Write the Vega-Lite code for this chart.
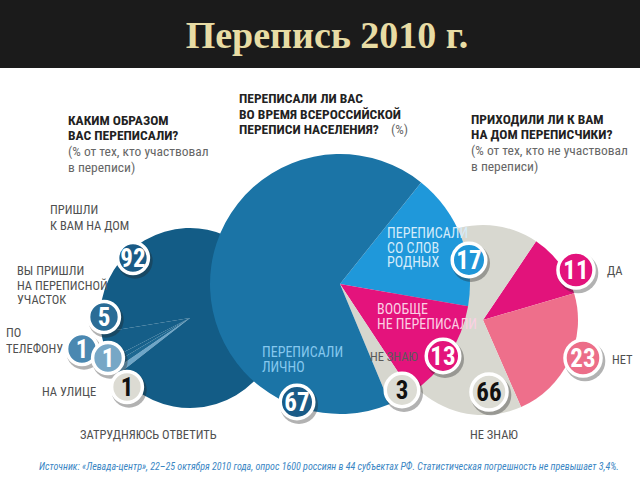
{
  "$schema": "https://vega.github.io/schema/vega-lite/v6.json",
  "width": 640,
  "height": 480,
  "autosize": {"type": "none"},
  "padding": 0,
  "background": "white",
  "config": {"view": {"stroke": null}},
  "datasets": {
    "slices": [
      {"pie": "left", "key": "hardL", "value": 1, "ord": 1},
      {"pie": "left", "key": "street", "value": 1, "ord": 2},
      {"pie": "left", "key": "phone", "value": 1, "ord": 3},
      {"pie": "left", "key": "station", "value": 5, "ord": 4},
      {"pie": "left", "key": "home", "value": 92, "ord": 5},
      {"pie": "center", "key": "relatives", "value": 17, "ord": 1},
      {"pie": "center", "key": "none", "value": 13, "ord": 2},
      {"pie": "center", "key": "dk", "value": 3, "ord": 3},
      {"pie": "center", "key": "self", "value": 67, "ord": 4},
      {"pie": "right", "key": "yes", "value": 11, "ord": 1},
      {"pie": "right", "key": "no", "value": 23, "ord": 2},
      {"pie": "right", "key": "dk2", "value": 66, "ord": 3}
    ],
    "bubbles": [
      {"key": "home", "pie": "left", "value": 92, "x": 133, "y": 258},
      {"key": "station", "pie": "left", "value": 5, "x": 104, "y": 317},
      {"key": "phone", "pie": "left", "value": 1, "x": 82, "y": 349},
      {"key": "street", "pie": "left", "value": 1, "x": 108, "y": 358},
      {"key": "hardL", "pie": "left", "value": 1, "x": 127, "y": 387},
      {"key": "self", "pie": "center", "value": 67, "x": 297, "y": 402},
      {"key": "relatives", "pie": "center", "value": 17, "x": 469, "y": 260},
      {"key": "none", "pie": "center", "value": 13, "x": 443, "y": 356},
      {"key": "dk", "pie": "center", "value": 3, "x": 402, "y": 390},
      {"key": "yes", "pie": "right", "value": 11, "x": 576, "y": 270},
      {"key": "no", "pie": "right", "value": 23, "x": 583, "y": 358},
      {"key": "dk2", "pie": "right", "value": 66, "x": 489, "y": 392}
    ],
    "labels": [
      {"text": "ПРИШЛИ", "x": 50, "y": 210, "key": "home"},
      {"text": "К ВАМ НА ДОМ", "x": 50, "y": 226, "key": "home"},
      {"text": "ВЫ ПРИШЛИ", "x": 17, "y": 271, "key": "station"},
      {"text": "НА ПЕРЕПИСНОЙ", "x": 17, "y": 285.5, "key": "station"},
      {"text": "УЧАСТОК", "x": 17, "y": 300, "key": "station"},
      {"text": "ПО", "x": 6, "y": 333, "key": "phone"},
      {"text": "ТЕЛЕФОНУ", "x": 6, "y": 349, "key": "phone"},
      {"text": "НА УЛИЦЕ", "x": 42, "y": 392, "key": "street"},
      {"text": "ЗАТРУДНЯЮСЬ ОТВЕТИТЬ", "x": 80, "y": 435, "key": "hardL"},
      {"text": "ПЕРЕПИСАЛИ", "x": 387, "y": 234, "key": "relatives"},
      {"text": "СО СЛОВ", "x": 387, "y": 248.5, "key": "relatives"},
      {"text": "РОДНЫХ", "x": 387, "y": 263, "key": "relatives"},
      {"text": "ВООБЩЕ", "x": 377, "y": 310, "key": "none"},
      {"text": "НЕ ПЕРЕПИСАЛИ", "x": 377, "y": 325, "key": "none"},
      {"text": "ПЕРЕПИСАЛИ", "x": 262, "y": 353, "key": "self"},
      {"text": "ЛИЧНО", "x": 262, "y": 367.5, "key": "self"},
      {"text": "НЕ ЗНАЮ", "x": 370, "y": 357, "key": "dk"},
      {"text": "ДА", "x": 607, "y": 271, "key": "yes"},
      {"text": "НЕТ", "x": 612, "y": 360, "key": "no"},
      {"text": "НЕ ЗНАЮ", "x": 470, "y": 435, "key": "dk2"}
    ],
    "titles": [
      {"text": "КАКИМ ОБРАЗОМ", "x": 68, "y": 121, "kind": "bold"},
      {"text": "ВАС ПЕРЕПИСАЛИ?", "x": 68, "y": 136, "kind": "bold"},
      {"text": "ПЕРЕПИСАЛИ ЛИ ВАС", "x": 239, "y": 99, "kind": "bold"},
      {"text": "ВО ВРЕМЯ ВСЕРОССИЙСКОЙ", "x": 239, "y": 114.5, "kind": "bold"},
      {"text": "ПЕРЕПИСИ НАСЕЛЕНИЯ?", "x": 239, "y": 130, "kind": "bold"},
      {"text": "ПРИХОДИЛИ ЛИ К ВАМ", "x": 471, "y": 120, "kind": "bold"},
      {"text": "НА ДОМ ПЕРЕПИСЧИКИ?", "x": 471, "y": 134.5, "kind": "bold"},
      {"text": "(% от тех, кто участвовал", "x": 68, "y": 152, "kind": "sub"},
      {"text": "в переписи)", "x": 68, "y": 168, "kind": "sub"},
      {"text": "(%)", "x": 391, "y": 130, "kind": "sub"},
      {"text": "(% от тех, кто не участвовал", "x": 471, "y": 151, "kind": "sub"},
      {"text": "в переписи)", "x": 471, "y": 166.5, "kind": "sub"},
      {"text": "Источник: «Левада-центр», 22–25 октября 2010 года, опрос 1600 россиян в 44 субъектах РФ. Статистическая погрешность не превышает 3,4%.", "x": 39, "y": 467, "kind": "source"},
      {"text": "Перепись 2010 г.", "x": 327, "y": 37, "kind": "header"}
    ]
  },
  "layer": [
    {
      "data": {"values": [{"x0": 0, "x1": 640, "y0": 0, "y1": 68}]},
      "mark": {"type": "rect", "color": "#1b1b1b"},
      "encoding": {
        "x": {"field": "x0", "type": "quantitative", "scale": {"domain": [0, 640], "nice": false, "zero": false}, "axis": null},
        "x2": {"field": "x1"},
        "y": {"field": "y0", "type": "quantitative", "scale": {"domain": [0, 480], "nice": false, "zero": false, "reverse": true}, "axis": null},
        "y2": {"field": "y1"}
      }
    },
    {
      "data": {"name": "slices"},
      "transform": [{"filter": "datum.pie === 'right'"}],
      "mark": {"type": "arc", "outerRadius": 95},
      "encoding": {
        "x": {"datum": 483, "type": "quantitative", "scale": {"domain": [0, 640], "nice": false, "zero": false}, "axis": null},
        "y": {"datum": 320, "type": "quantitative", "scale": {"domain": [0, 480], "nice": false, "zero": false, "reverse": true}, "axis": null},
        "theta": {"field": "value", "type": "quantitative", "stack": true, "scale": {"domain": [0, 100], "range": [0.593, 6.876]}},
        "order": {"field": "ord", "type": "quantitative"},
        "color": {"field": "key", "type": "nominal", "legend": null, "scale": {"domain": ["yes", "no", "dk2"], "range": ["#e2137b", "#ee6f8b", "#d8d8d0"]}}
      }
    },
    {
      "data": {"name": "slices"},
      "transform": [{"filter": "datum.pie === 'left'"}],
      "mark": {"type": "arc", "outerRadius": 90},
      "encoding": {
        "x": {"datum": 190, "type": "quantitative", "scale": {"domain": [0, 640], "nice": false, "zero": false}, "axis": null},
        "y": {"datum": 318, "type": "quantitative", "scale": {"domain": [0, 480], "nice": false, "zero": false, "reverse": true}, "axis": null},
        "theta": {"field": "value", "type": "quantitative", "stack": true, "scale": {"domain": [0, 100], "range": [4.049, 10.332]}},
        "order": {"field": "ord", "type": "quantitative"},
        "color": {"field": "key", "type": "nominal", "legend": null, "scale": {"domain": ["hardL", "street", "phone", "station", "home"], "range": ["#6ea6c8", "#1d6892", "#17618b", "#155e88", "#135c86"]}}
      }
    },
    {
      "data": {"name": "slices"},
      "transform": [{"filter": "datum.pie === 'center'"}],
      "mark": {"type": "arc", "outerRadius": 130},
      "encoding": {
        "x": {"datum": 340, "type": "quantitative", "scale": {"domain": [0, 640], "nice": false, "zero": false}, "axis": null},
        "y": {"datum": 284, "type": "quantitative", "scale": {"domain": [0, 480], "nice": false, "zero": false, "reverse": true}, "axis": null},
        "theta": {"field": "value", "type": "quantitative", "stack": true, "scale": {"domain": [0, 100], "range": [0.674, 6.957]}},
        "order": {"field": "ord", "type": "quantitative"},
        "color": {"field": "key", "type": "nominal", "legend": null, "scale": {"domain": ["relatives", "none", "dk", "self"], "range": ["#1f98da", "#e4137c", "#d6d6ce", "#1b74a6"]}}
      }
    },
    {
      "data": {"name": "bubbles"},
      "mark": {"type": "circle", "color": "#222222", "opacity": 0.35, "xOffset": 2, "yOffset": 3},
      "encoding": {
        "x": {"field": "x", "type": "quantitative", "scale": {"domain": [0, 640], "nice": false, "zero": false}, "axis": null},
        "y": {"field": "y", "type": "quantitative", "scale": {"domain": [0, 480], "nice": false, "zero": false, "reverse": true}, "axis": null},
        "size": {"field": "pie", "type": "nominal", "legend": null, "scale": {"domain": ["left", "center", "right"], "range": [1250, 1650, 1650]}}
      }
    },
    {
      "data": {"name": "bubbles"},
      "mark": {"type": "circle", "opacity": 1, "stroke": "white", "strokeWidth": 3.5},
      "encoding": {
        "x": {"field": "x", "type": "quantitative", "scale": {"domain": [0, 640], "nice": false, "zero": false}, "axis": null},
        "y": {"field": "y", "type": "quantitative", "scale": {"domain": [0, 480], "nice": false, "zero": false, "reverse": true}, "axis": null},
        "size": {"field": "pie", "type": "nominal", "legend": null, "scale": {"domain": ["left", "center", "right"], "range": [950, 1300, 1300]}},
        "color": {"field": "key", "type": "nominal", "legend": null, "scale": {"domain": ["home", "station", "phone", "street", "hardL", "self", "relatives", "none", "dk", "yes", "no", "dk2"], "range": ["#1a5b86", "#2a6c96", "#4a88b1", "#77a7c6", "#dcdbd3", "#1a5b87", "#1f96d8", "#e3147c", "#dcdcd4", "#e3137c", "#ec6e89", "#dcdcd4"]}}
      }
    },
    {
      "data": {"name": "bubbles"},
      "mark": {"type": "text", "font": "Roboto Condensed, Liberation Sans Narrow, Roboto, sans-serif", "fontWeight": "bold", "fontSize": 25, "align": "center", "baseline": "middle", "dy": 1},
      "encoding": {
        "x": {"field": "x", "type": "quantitative", "scale": {"domain": [0, 640], "nice": false, "zero": false}, "axis": null},
        "y": {"field": "y", "type": "quantitative", "scale": {"domain": [0, 480], "nice": false, "zero": false, "reverse": true}, "axis": null},
        "text": {"field": "value", "type": "quantitative"},
        "color": {"field": "key", "type": "nominal", "legend": null, "scale": {"domain": ["home", "station", "phone", "street", "hardL", "self", "relatives", "none", "dk", "yes", "no", "dk2"], "range": ["#ffffff", "#ffffff", "#ffffff", "#ffffff", "#111111", "#ffffff", "#ffffff", "#ffffff", "#111111", "#ffffff", "#ffffff", "#111111"]}}
      }
    },
    {
      "data": {"name": "labels"},
      "transform": [{"filter": "datum.key !== 'relatives' && datum.key !== 'none' && datum.key !== 'self'"}],
      "mark": {"type": "text", "font": "Roboto Condensed, Liberation Sans Narrow, Roboto, sans-serif", "fontSize": 12.5, "align": "left", "baseline": "middle"},
      "encoding": {
        "x": {"field": "x", "type": "quantitative", "scale": {"domain": [0, 640], "nice": false, "zero": false}, "axis": null},
        "y": {"field": "y", "type": "quantitative", "scale": {"domain": [0, 480], "nice": false, "zero": false, "reverse": true}, "axis": null},
        "text": {"field": "text", "type": "nominal"},
        "color": {"field": "key", "type": "nominal", "legend": null, "scale": {"domain": ["home", "station", "phone", "street", "hardL", "dk", "yes", "no", "dk2"], "range": ["#505050", "#505050", "#505050", "#505050", "#505050", "#5a5a5a", "#505050", "#505050", "#505050"]}}
      }
    },
    {
      "data": {"name": "labels"},
      "transform": [{"filter": "datum.key === 'relatives' || datum.key === 'none' || datum.key === 'self'"}],
      "mark": {"type": "text", "font": "Roboto Condensed, Liberation Sans Narrow, Roboto, sans-serif", "fontSize": 14, "align": "left", "baseline": "middle"},
      "encoding": {
        "x": {"field": "x", "type": "quantitative", "scale": {"domain": [0, 640], "nice": false, "zero": false}, "axis": null},
        "y": {"field": "y", "type": "quantitative", "scale": {"domain": [0, 480], "nice": false, "zero": false, "reverse": true}, "axis": null},
        "text": {"field": "text", "type": "nominal"},
        "color": {"field": "key", "type": "nominal", "legend": null, "scale": {"domain": ["self", "relatives", "none"], "range": ["#86c8ee", "#d5ecfa", "#fbd0e4"]}}
      }
    },
    {
      "data": {"name": "titles"},
      "transform": [{"filter": "datum.kind === 'bold'"}],
      "mark": {"type": "text", "font": "Roboto Condensed, Liberation Sans Narrow, Roboto, sans-serif", "fontWeight": "bold", "fontSize": 13.5, "align": "left", "baseline": "middle", "color": "#222222"},
      "encoding": {
        "x": {"field": "x", "type": "quantitative", "scale": {"domain": [0, 640], "nice": false, "zero": false}, "axis": null},
        "y": {"field": "y", "type": "quantitative", "scale": {"domain": [0, 480], "nice": false, "zero": false, "reverse": true}, "axis": null},
        "text": {"field": "text", "type": "nominal"}
      }
    },
    {
      "data": {"name": "titles"},
      "transform": [{"filter": "datum.kind === 'sub'"}],
      "mark": {"type": "text", "font": "Roboto Condensed, Liberation Sans Narrow, Roboto, sans-serif", "fontSize": 13.5, "align": "left", "baseline": "middle", "color": "#666666"},
      "encoding": {
        "x": {"field": "x", "type": "quantitative", "scale": {"domain": [0, 640], "nice": false, "zero": false}, "axis": null},
        "y": {"field": "y", "type": "quantitative", "scale": {"domain": [0, 480], "nice": false, "zero": false, "reverse": true}, "axis": null},
        "text": {"field": "text", "type": "nominal"}
      }
    },
    {
      "data": {"name": "titles"},
      "transform": [{"filter": "datum.kind === 'source'"}],
      "mark": {"type": "text", "font": "Roboto Condensed, Liberation Sans Narrow, Roboto, sans-serif", "fontStyle": "italic", "fontSize": 10, "align": "left", "baseline": "middle", "color": "#3a86c4"},
      "encoding": {
        "x": {"field": "x", "type": "quantitative", "scale": {"domain": [0, 640], "nice": false, "zero": false}, "axis": null},
        "y": {"field": "y", "type": "quantitative", "scale": {"domain": [0, 480], "nice": false, "zero": false, "reverse": true}, "axis": null},
        "text": {"field": "text", "type": "nominal"}
      }
    },
    {
      "data": {"name": "titles"},
      "transform": [{"filter": "datum.kind === 'header'"}],
      "mark": {"type": "text", "font": "Liberation Serif, DejaVu Serif, serif", "fontWeight": "bold", "fontSize": 38, "align": "center", "baseline": "middle", "color": "#e8dca4"},
      "encoding": {
        "x": {"field": "x", "type": "quantitative", "scale": {"domain": [0, 640], "nice": false, "zero": false}, "axis": null},
        "y": {"field": "y", "type": "quantitative", "scale": {"domain": [0, 480], "nice": false, "zero": false, "reverse": true}, "axis": null},
        "text": {"field": "text", "type": "nominal"}
      }
    }
  ],
  "resolve": {"scale": {"theta": "independent", "color": "independent", "size": "independent"}}
}
